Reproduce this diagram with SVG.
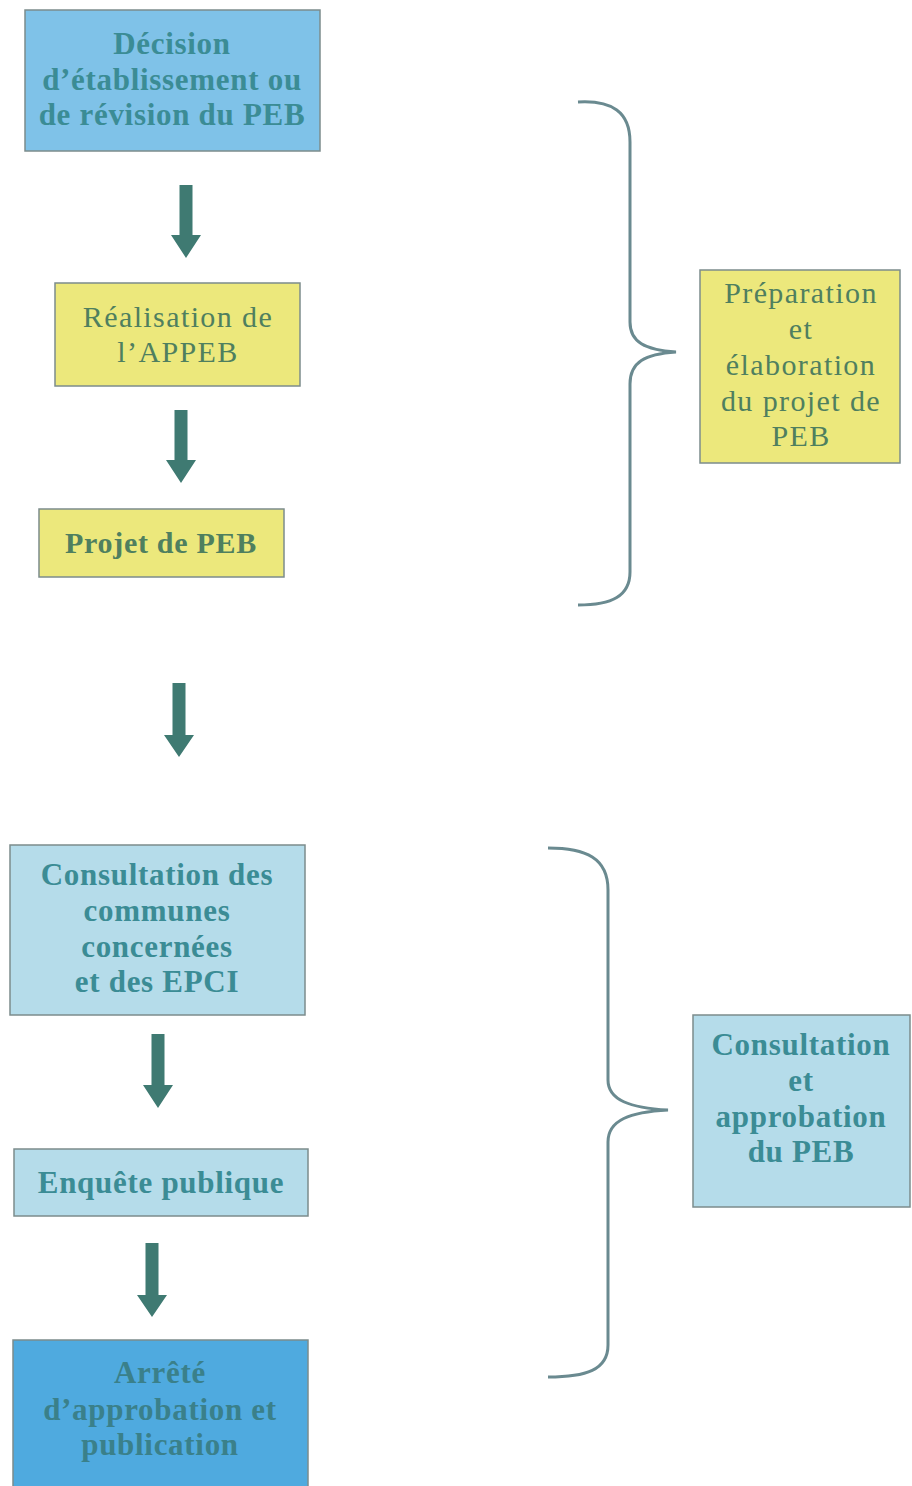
<svg xmlns="http://www.w3.org/2000/svg" width="912" height="1486" viewBox="0 0 912 1486">
<style>
.box{stroke:#7c8c8c;stroke-width:1.5}
.blue{fill:#7fc2e8}
.yellow{fill:#ece87c}
.light{fill:#b5dcea}
.dark{fill:#4faadf}
.tb{font-family:"Liberation Serif",serif;font-size:31px;font-weight:bold;fill:#3b8c95;text-anchor:middle;letter-spacing:0.7px}
.td{fill:#3a808a}
.ty{font-family:"Liberation Serif",serif;font-size:30px;fill:#4f7f5f;text-anchor:middle;letter-spacing:1.4px}
.tyb{font-family:"Liberation Serif",serif;font-size:30px;font-weight:bold;fill:#4f7f5f;text-anchor:middle;letter-spacing:0.7px}
.arrow{fill:#3f7a72}
.brace{fill:none;stroke:#6a8a90;stroke-width:3}
</style>
<rect width="912" height="1486" fill="#ffffff"/>
<g id="connectors">
<polygon class="arrow" points="179.5,185 192.5,185 192.5,235 201,235 186,258 171,235 179.5,235"/>
<polygon class="arrow" points="174.5,410 187.5,410 187.5,460 196,460 181,483 166,460 174.5,460"/>
<polygon class="arrow" points="172.5,683 185.5,683 185.5,735 194,735 179,757 164,735 172.5,735"/>
<polygon class="arrow" points="151.5,1034 164.5,1034 164.5,1085 173,1085 158,1108 143,1085 151.5,1085"/>
<polygon class="arrow" points="145.5,1243 158.5,1243 158.5,1295 167,1295 152,1317 137,1295 145.5,1295"/>
<path class="brace" d="M 578 102 C 612 100, 630 112, 630 142 L 630 322 C 630 342, 645 350, 676 352 C 645 354, 630 362, 630 384 L 630 572 C 630 596, 612 605, 578 605"/>
<path class="brace" d="M 548 848 C 586 848, 608 858, 608 890 L 608 1080 C 608 1100, 630 1108, 668 1110 C 630 1112, 608 1120, 608 1142 L 608 1345 C 608 1370, 586 1377, 548 1377"/>
</g>
<g id="n1">
<rect class="box blue" x="25" y="10" width="295" height="141"/>
<text class="tb" x="172" y="54">Décision</text>
<text class="tb" x="172" y="90">d’établissement ou</text>
<text class="tb" x="172" y="125">de révision du PEB</text>
</g>
<g id="n2">
<rect class="box yellow" x="55" y="283" width="245" height="103"/>
<text class="ty" x="178" y="327">Réalisation de</text>
<text class="ty" x="178" y="362">l’APPEB</text>
</g>
<g id="n3">
<rect class="box yellow" x="39" y="509" width="245" height="68"/>
<text class="tyb" x="161" y="553">Projet de PEB</text>
</g>
<g id="n4">
<rect class="box yellow" x="700" y="270" width="200" height="193"/>
<text class="ty" x="801" y="303">Préparation</text>
<text class="ty" x="801" y="339">et</text>
<text class="ty" x="801" y="375">élaboration</text>
<text class="ty" x="801" y="411">du projet de</text>
<text class="ty" x="801" y="446">PEB</text>
</g>
<g id="n5">
<rect class="box light" x="10" y="845" width="295" height="170"/>
<text class="tb" x="157" y="885">Consultation des</text>
<text class="tb" x="157" y="921">communes</text>
<text class="tb" x="157" y="957">concernées</text>
<text class="tb" x="157" y="992">et des EPCI</text>
</g>
<g id="n6">
<rect class="box light" x="14" y="1149" width="294" height="67"/>
<text class="tb" x="161" y="1193">Enquête publique</text>
</g>
<g id="n7">
<rect class="box dark" x="13" y="1340" width="295" height="150"/>
<text class="tb td" x="160" y="1383">Arrêté</text>
<text class="tb td" x="160" y="1420">d’approbation et</text>
<text class="tb td" x="160" y="1455">publication</text>
</g>
<g id="n8">
<rect class="box light" x="693" y="1015" width="217" height="192"/>
<text class="tb" x="801" y="1055">Consultation</text>
<text class="tb" x="801" y="1091">et</text>
<text class="tb" x="801" y="1127">approbation</text>
<text class="tb" x="801" y="1162">du PEB</text>
</g>
</svg>
